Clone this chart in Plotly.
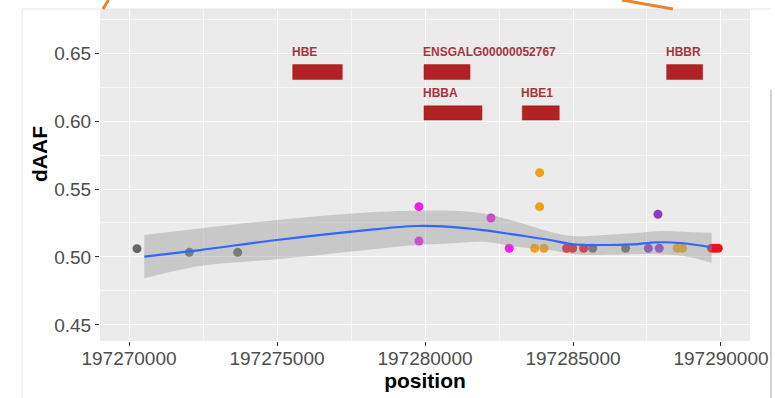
import plotly.graph_objects as go

# ---- data -------------------------------------------------------------
point_pos = [197270270, 197272037, 197273672, 197279796, 197279796, 197282229,
             197282847, 197283873, 197283873, 197283705, 197284019, 197284785,
             197284988, 197285360, 197285664, 197286779, 197287543, 197287914,
             197287870, 197288522, 197288704, 197289683, 197289795, 197289907]
point_daaf = [0.5061, 0.5034, 0.5034, 0.5370, 0.5117, 0.5287,
              0.5064, 0.5620, 0.5370, 0.5064, 0.5064, 0.5064,
              0.5064, 0.5064, 0.5064, 0.5064, 0.5064, 0.5064,
              0.5314, 0.5064, 0.5064, 0.5064, 0.5064, 0.5064]
point_group = ["grey", "grey", "grey", "magenta", "magenta", "magenta",
               "magenta", "orange", "orange", "orange", "orange", "red",
               "red", "red", "grey", "grey", "purple", "purple",
               "purple", "orange", "orange", "red", "red", "red"]
group_colors = {"grey": "#666666", "magenta": "#EE1EEE", "orange": "#F2A10E",
                "red": "#E8141C", "purple": "#8A3CC6"}

smooth_pos = [197270517, 197272398, 197274989, 197278029, 197279718, 197280844,
              197281958, 197283097, 197284221, 197284998, 197285910, 197287025,
              197287826, 197288714, 197289683]
smooth_fit = [0.5002, 0.5051, 0.5125, 0.5198, 0.5228, 0.5222,
              0.5198, 0.5162, 0.5125, 0.5093, 0.5088, 0.5093,
              0.5108, 0.5101, 0.5071]
smooth_lo = [0.4843, 0.4934, 0.4983, 0.5051, 0.5088, 0.5100,
             0.5112, 0.5075, 0.5051, 0.5020, 0.5015, 0.5020,
             0.5020, 0.5007, 0.4958]
smooth_hi = [0.5162, 0.5210, 0.5272, 0.5328, 0.5340, 0.5340,
             0.5320, 0.5260, 0.5186, 0.5154, 0.5160, 0.5174,
             0.5190, 0.5186, 0.5179]

gene_names = ["HBE", "ENSGALG00000052767", "HBBR", "HBBA", "HBE1"]
gene_start = [197275530, 197279966, 197288164, 197279966, 197283286]
gene_end = [197277206, 197281520, 197289381, 197281925, 197284536]
gene_ymin = [0.6305, 0.6305, 0.6305, 0.6007, 0.6007]
gene_ymax = [0.6415, 0.6415, 0.6415, 0.6112, 0.6112]
gene_label_y = [0.651, 0.651, 0.651, 0.6203, 0.6203]

x_tickvals = [197270000, 197275000, 197280000, 197285000, 197290000]
x_ticktext = ["197270000", "197275000", "197280000", "197285000", "197290000"]
y_tickvals = [0.45, 0.50, 0.55, 0.60, 0.65]
y_ticktext = ["0.45", "0.50", "0.55", "0.60", "0.65"]

FONT = "Liberation Sans, Arial, sans-serif"

fig = go.Figure()

# points (drawn under the smooth band, as in ggplot)
for g, col in group_colors.items():
    xs = [p for p, gg in zip(point_pos, point_group) if gg == g]
    ys = [d for d, gg in zip(point_daaf, point_group) if gg == g]
    fig.add_trace(go.Scatter(x=xs, y=ys, mode="markers",
                             marker=dict(color=col, size=9, line=dict(width=0)),
                             showlegend=False, hoverinfo="x+y"))

# confidence band
fig.add_trace(go.Scatter(x=smooth_pos, y=smooth_lo, mode="lines",
                         line=dict(width=0, shape="spline"),
                         showlegend=False, hoverinfo="skip"))
fig.add_trace(go.Scatter(x=smooth_pos, y=smooth_hi, mode="lines",
                         line=dict(width=0, shape="spline"),
                         fill="tonexty", fillcolor="rgba(153,153,153,0.42)",
                         showlegend=False, hoverinfo="skip"))
# smooth line
fig.add_trace(go.Scatter(x=smooth_pos, y=smooth_fit, mode="lines",
                         line=dict(color="#3366FF", width=2.2, shape="spline"),
                         showlegend=False))

# gene boxes
for name, s, e, y0, y1, ly in zip(gene_names, gene_start, gene_end,
                                   gene_ymin, gene_ymax, gene_label_y):
    fig.add_shape(type="rect", xref="x", yref="y", x0=s, x1=e, y0=y0, y1=y1,
                  fillcolor="#B22222", line=dict(color="#A01E1E", width=0.5))
    fig.add_annotation(x=s, y=ly, xref="x", yref="y", text="<b>%s</b>" % name,
                       showarrow=False, xanchor="left", yanchor="middle",
                       xshift=-3,
                       font=dict(family=FONT, size=12, color="#A8343A"))

# decorative frame / overlay lines of the screenshot
PL, PR, PT, PB = 100, 750, 9, 341
W = PR - PL
H = PB - PT
def px(x):
    return (x - PL) / W
def py(y):
    return (PB - y) / H

fig.add_shape(type="line", xref="paper", yref="paper",
              x0=px(22), x1=px(22), y0=py(9), y1=py(398),
              line=dict(color="#E6E6E6", width=1))
fig.add_shape(type="line", xref="paper", yref="paper",
              x0=px(22), x1=px(771), y0=py(9), y1=py(9),
              line=dict(color="#E6E6E6", width=1))
fig.add_shape(type="line", xref="paper", yref="paper",
              x0=px(771), x1=px(771), y0=py(90), y1=py(398),
              line=dict(color="#B4B4B4", width=1.2))
fig.add_shape(type="line", xref="paper", yref="paper",
              x0=px(103), x1=px(108.5), y0=py(9), y1=py(0),
              line=dict(color="#E8842E", width=3))
fig.add_shape(type="line", xref="paper", yref="paper",
              x0=px(622), x1=px(673), y0=py(0), y1=py(9),
              line=dict(color="#E8842E", width=3))

# y-axis title placed as text
fig.add_annotation(xref="paper", yref="paper", x=px(39), y=py(154),
                   text="<b>dAAF</b>", textangle=-90, showarrow=False,
                   xanchor="center", yanchor="middle",
                   font=dict(size=21, color="black", family=FONT))

fig.update_layout(
    width=775, height=398,
    margin=dict(l=PL, r=775 - PR, t=PT, b=398 - PB, autoexpand=False),
    paper_bgcolor="white", plot_bgcolor="#EBEBEB",
    font=dict(family=FONT, color="#4D4D4D"),
    showlegend=False,
)
fig.update_xaxes(
    automargin=False,
    range=[197269020, 197290980],
    tickvals=x_tickvals, ticktext=x_ticktext,
    tickfont=dict(size=19, color="#4D4D4D", family=FONT),
    ticks="outside", ticklen=4, tickcolor="#333333", tickwidth=1,
    ticklabelstandoff=-4,
    showgrid=True, gridcolor="white", gridwidth=1.2,
    minor=dict(dtick=2500, tick0=197270000, showgrid=True, gridcolor="#F7F7F7", gridwidth=0.6, ticks=""),
    zeroline=False, showline=False,
    title=dict(text="<b>position</b>", font=dict(size=21, color="black", family=FONT), standoff=2),
)
fig.update_yaxes(
    automargin=False,
    range=[0.4382, 0.6824],
    tickvals=y_tickvals, ticktext=y_ticktext,
    tickfont=dict(size=19, color="#4D4D4D", family=FONT),
    ticks="outside", ticklen=4, tickcolor="#333333", tickwidth=1,
    showgrid=True, gridcolor="white", gridwidth=1.2,
    minor=dict(dtick=0.025, tick0=0.45, showgrid=True, gridcolor="#F7F7F7", gridwidth=0.6, ticks=""),
    zeroline=False, showline=False,
)

fig.write_html("out.html", config={"displayModeBar": False},
               post_script="document.body.style.margin='0';document.body.style.overflow='hidden';")
